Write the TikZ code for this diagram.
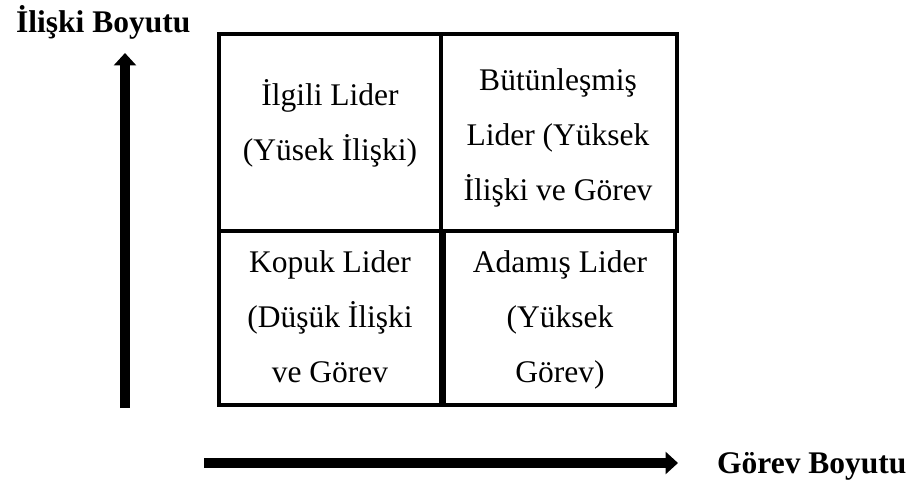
\documentclass[tikz,border=0pt]{standalone}
\usepackage{fontspec}
\setmainfont{Liberation Serif}
\usetikzlibrary{arrows.meta}

\tikzset{
  cell/.style={draw=black, line width=4pt, line join=miter},
  % multi-line texts: the base anchor sits on the last line's baseline
  celltext/.style={inner sep=0pt, anchor=base, align=center,
    font=\fontsize{31.5}{55}\selectfont},
  axislabel/.style={inner sep=0pt, anchor=base west,
    font=\fontsize{31.5}{36}\selectfont\bfseries},
  axisarrow/.style={line width=10pt,
    -{Triangle[length=12.5pt,width=22pt]}}
}

\begin{document}
\begin{tikzpicture}[x=1pt,y=1pt]
  \useasboundingbox (0,0) rectangle (915,485);

  % the four quadrants of the grid
  \draw[cell] (219,451) rectangle (441,254);
  \draw[cell] (441,451) rectangle (677,254);
  \draw[cell] (219,254) rectangle (441,80);
  \draw[cell] (444,254) rectangle (675,80);

  % quadrant texts
  \node[celltext] (ilgili)   at (330,324) {İlgili Lider\\(Yüsek İlişki)};
  \node[celltext] (butun)    at (558,284) {Bütünleşmiş\\Lider (Yüksek\\İlişki ve Görev};
  \node[celltext] (kopuk)    at (330,103) {Kopuk Lider\\(Düşük İlişki\\ve Görev};
  \node[celltext] (adamis)   at (560,103) {Adamış Lider\\(Yüksek\\Görev)};

  % axes
  \coordinate (ybase) at (125,77);
  \coordinate (ytip)  at (125,432);
  \coordinate (xbase) at (204,22);
  \coordinate (xtip)  at (678,22);
  \draw[axisarrow] (ybase) -- (ytip);
  \draw[axisarrow] (xbase) -- (xtip);

  \node[axislabel] (ylabel) at (16,452) {İlişki Boyutu};
  \node[axislabel] (xlabel) at (717,12) {Görev Boyutu};
\end{tikzpicture}
\end{document}
